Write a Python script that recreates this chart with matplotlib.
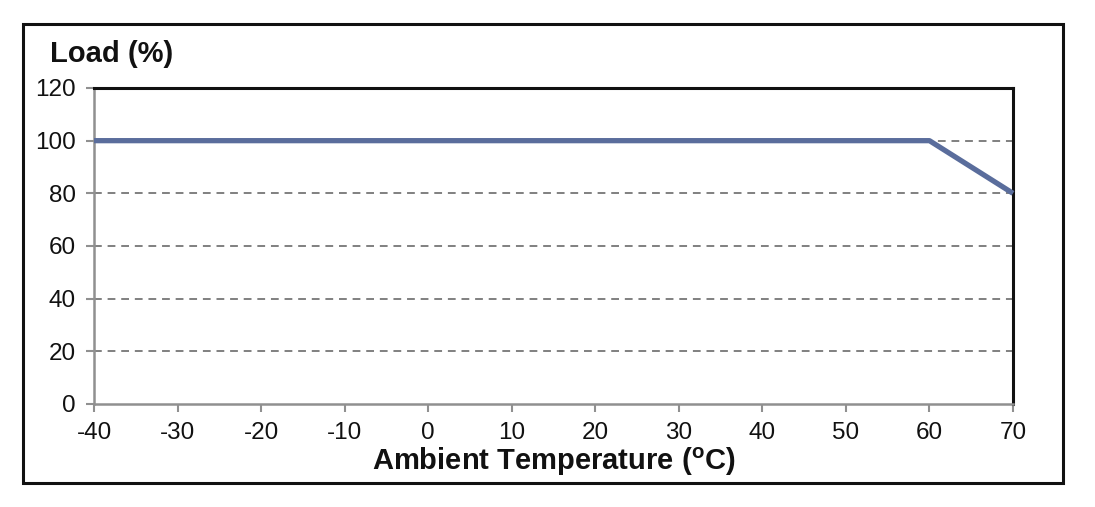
import matplotlib.pyplot as plt
from matplotlib.patches import Rectangle

plt.rcParams['font.family'] = ['Liberation Sans', 'DejaVu Sans']
plt.rcParams['mathtext.fontset'] = 'custom'
plt.rcParams['mathtext.rm'] = 'Liberation Sans'
plt.rcParams['mathtext.bf'] = 'Liberation Sans:bold'
plt.rcParams['axes.unicode_minus'] = False

# Derating curve
temp = [-40, 60, 70]
load = [100, 100, 80]
x_ticks = [-40, -30, -20, -10, 0, 10, 20, 30, 40, 50, 60, 70]
y_ticks = [0, 20, 40, 60, 80, 100, 120]

fig = plt.figure(figsize=(10.95, 5.07), dpi=100)
ax = fig.add_axes([94 / 1095, 1 - 404 / 507, (1013 - 94) / 1095, (404 - 88) / 507])

for y in y_ticks[1:-1]:
    ax.axhline(y, color='#808080', lw=1.4, ls=(0, (4, 3)), zorder=1)

ax.plot(temp, load, color='#5a6d9c', lw=3.8, solid_capstyle='butt', zorder=3, clip_on=False)

ax.set_xlim(-40, 70)
ax.set_ylim(0, 120)
ax.set_xticks(x_ticks)
ax.set_yticks(y_ticks)
ax.tick_params(axis='both', direction='out', length=6, width=1.5, color='#909090',
               labelsize=17.5, labelcolor='#111111')
ax.tick_params(axis='x', pad=7)
ax.tick_params(axis='y', pad=7)
ax.spines['left'].set_color('#909090')
ax.spines['bottom'].set_color('#909090')
ax.spines['left'].set_linewidth(1.8)
ax.spines['bottom'].set_linewidth(1.8)
ax.spines['top'].set_color('#111111')
ax.spines['right'].set_color('#111111')
ax.spines['top'].set_linewidth(2.2)
ax.spines['right'].set_linewidth(2.2)

ax.set_xlabel(r'Ambient Temperature ($\mathbf{^{o}}$C)', fontsize=21, fontweight='bold',
              labelpad=1, color='#111111')
fig.text(50 / 1095, 1 - 62 / 507, 'Load (%)', fontsize=21, fontweight='bold',
         color='#111111', ha='left', va='baseline')

fig.patches.append(Rectangle((23 / 1095, 1 - 483 / 507), (1063 - 23) / 1095, (483 - 24) / 507,
                             transform=fig.transFigure, fill=False, ec='#111111', lw=2.2))

fig.savefig('out.png', dpi=100, facecolor='white')
